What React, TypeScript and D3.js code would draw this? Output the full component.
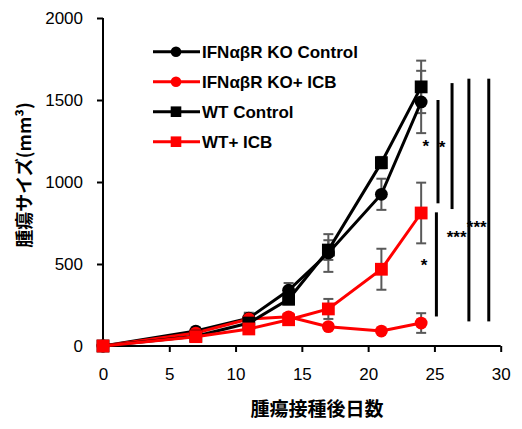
import { useEffect, useRef } from "react"
import * as d3 from "d3"

// 測定日
const days = [0, 7, 11, 14, 17, 21, 24]

const koControl = [0, 91, 170, 340, 567, 925, 1488]
const koControlErr = [0, 10, 33, 44, 115, 95, 190]
const koIcb = [0, 79, 165, 178, 118, 91, 140]
const koIcbErr = [0, 10, 15, 20, 15, 10, 60]
const wtControl = [0, 60, 140, 285, 585, 1118, 1580]
const wtControlErr = [0, 10, 20, 30, 60, 35, 160]
const wtIcb = [0, 57, 104, 160, 226, 468, 811]
const wtIcbErr = [0, 8, 15, 20, 61, 125, 185]

const seriesNames = ["IFNαβR KO Control", "IFNαβR KO+ ICB", "WT Control", "WT+ ICB"]
const xTicks = [0, 5, 10, 15, 20, 25, 30]
const yTicks = [0, 500, 1000, 1500, 2000]

// 有意差バー (日, 下端, 上端)
const sigBarX = [25.27, 26.33, 27.6, 29.1, 25.15]
const sigBarLow = [870, 835, 150, 150, 180]
const sigBarHigh = [1500, 1603, 1630, 1630, 815]
// 有意差マーク
const starX = [24.36, 25.57, 26.68, 28.19, 24.21]
const starY = [1246, 1238, 691, 752, 518]
const starText = ["*", "*", "***", "***", "*"]

const W = 522
const H = 429

export default function App() {
  const svgRef = useRef<SVGSVGElement>(null)

  useEffect(() => {
    if (!svgRef.current) return
    const svg = d3.select(svgRef.current)
    svg.selectAll("*").remove()

    const x = d3.scaleLinear().domain([0, 30]).range([103, 500.7])
    const y = d3.scaleLinear().domain([0, 2000]).range([346, 18])
    const font = "'Liberation Sans', Arial, sans-serif"
    const jpFont = "'Noto Sans CJK JP', sans-serif"

    const series = [
      { name: seriesNames[0], values: koControl, err: koControlErr, color: "#000000", shape: "circle" },
      { name: seriesNames[1], values: koIcb, err: koIcbErr, color: "#ff0000", shape: "circle" },
      { name: seriesNames[2], values: wtControl, err: wtControlErr, color: "#000000", shape: "square" },
      { name: seriesNames[3], values: wtIcb, err: wtIcbErr, color: "#ff0000", shape: "square" },
    ]

    // 軸
    const yAxis = svg
      .append("g")
      .attr("transform", `translate(${x(0)},0)`)
      .call(d3.axisLeft(y).tickValues(yTicks).tickSize(6).tickPadding(14).tickFormat((d) => String(d)))
    const xAxis = svg
      .append("g")
      .attr("transform", `translate(0,${y(0)})`)
      .call(d3.axisBottom(x).tickValues(xTicks).tickSize(6).tickPadding(16).tickFormat((d) => String(d)))
    for (const ax of [yAxis, xAxis]) {
      ax.select(".domain").attr("stroke", "#000").attr("stroke-width", 2)
      ax.selectAll(".tick line").attr("stroke", "#000").attr("stroke-width", 2)
      ax.selectAll("text").attr("fill", "#000").style("font-family", font).style("font-size", "17px")
    }
    yAxis.select(".domain").attr("d", `M0,${y(2000)}V${y(0)}`)
    xAxis.select(".domain").attr("d", `M${x(0)},0H${x(30)}`)

    // エラーバー
    series.forEach((s) => {
      const g = svg.append("g").attr("stroke", "#595959").attr("stroke-width", 2)
      days.forEach((d, i) => {
        if (!s.err[i]) return
        const cx = x(d)
        const top = y(s.values[i] + s.err[i])
        const bot = y(s.values[i] - s.err[i])
        g.append("line").attr("x1", cx).attr("x2", cx).attr("y1", top).attr("y2", bot)
        g.append("line").attr("x1", cx - 5).attr("x2", cx + 5).attr("y1", top).attr("y2", top)
        g.append("line").attr("x1", cx - 5).attr("x2", cx + 5).attr("y1", bot).attr("y2", bot)
      })
    })

    // 系列
    const line = d3
      .line<number>()
      .x((_, i) => x(days[i]))
      .y((v) => y(v))
    series.forEach((s) => {
      svg
        .append("path")
        .datum(s.values)
        .attr("d", line)
        .attr("fill", "none")
        .attr("stroke", s.color)
        .attr("stroke-width", 3)
      const g = svg.append("g").attr("fill", s.color)
      s.values.forEach((v, i) => {
        if (s.shape === "circle") {
          g.append("circle").attr("cx", x(days[i])).attr("cy", y(v)).attr("r", 6.4)
        } else {
          g.append("rect")
            .attr("x", x(days[i]) - 6.4)
            .attr("y", y(v) - 6.4)
            .attr("width", 12.8)
            .attr("height", 12.8)
        }
      })
    })

    // 有意差
    sigBarX.forEach((d, i) => {
      svg
        .append("line")
        .attr("x1", x(d))
        .attr("x2", x(d))
        .attr("y1", y(sigBarHigh[i]))
        .attr("y2", y(sigBarLow[i]))
        .attr("stroke", "#000")
        .attr("stroke-width", 3)
    })
    starX.forEach((d, i) => {
      svg
        .append("text")
        .attr("x", x(d))
        .attr("y", y(starY[i]) + 10)
        .attr("text-anchor", "middle")
        .style("font-family", font)
        .style("font-size", "17px")
        .style("font-weight", "bold")
        .text(starText[i])
    })

    // 凡例
    series.forEach((s, i) => {
      const ly = 51.7 + i * 30
      const g = svg.append("g")
      g.append("line").attr("x1", 153).attr("x2", 200).attr("y1", ly).attr("y2", ly).attr("stroke", s.color).attr("stroke-width", 3)
      if (s.shape === "circle") {
        g.append("circle").attr("cx", 176).attr("cy", ly).attr("r", 5.3).attr("fill", s.color)
      } else {
        g.append("rect").attr("x", 176 - 5.3).attr("y", ly - 5.3).attr("width", 10.6).attr("height", 10.6).attr("fill", s.color)
      }
      g.append("text")
        .attr("x", 202)
        .attr("y", ly + 6)
        .style("font-family", font)
        .style("font-size", "17px")
        .style("font-weight", "bold")
        .text(s.name)
    })

    // 軸タイトル
    svg
      .append("text")
      .attr("x", 317)
      .attr("y", 416)
      .attr("text-anchor", "middle")
      .style("font-family", jpFont)
      .style("font-size", "19px")
      .style("font-weight", "bold")
      .text("腫瘍接種後日数")
    svg
      .append("text")
      .attr("transform", "translate(31,175) rotate(-90)")
      .attr("text-anchor", "middle")
      .style("font-family", jpFont)
      .style("font-size", "18px")
      .style("font-weight", "bold")
      .text("腫瘍サイズ(mm³)")
  }, [])

  return (
    <svg
      ref={svgRef}
      width={W}
      height={H}
      style={{ position: "absolute", left: 0, top: 0, background: "#fff" }}
    />
  )
}
